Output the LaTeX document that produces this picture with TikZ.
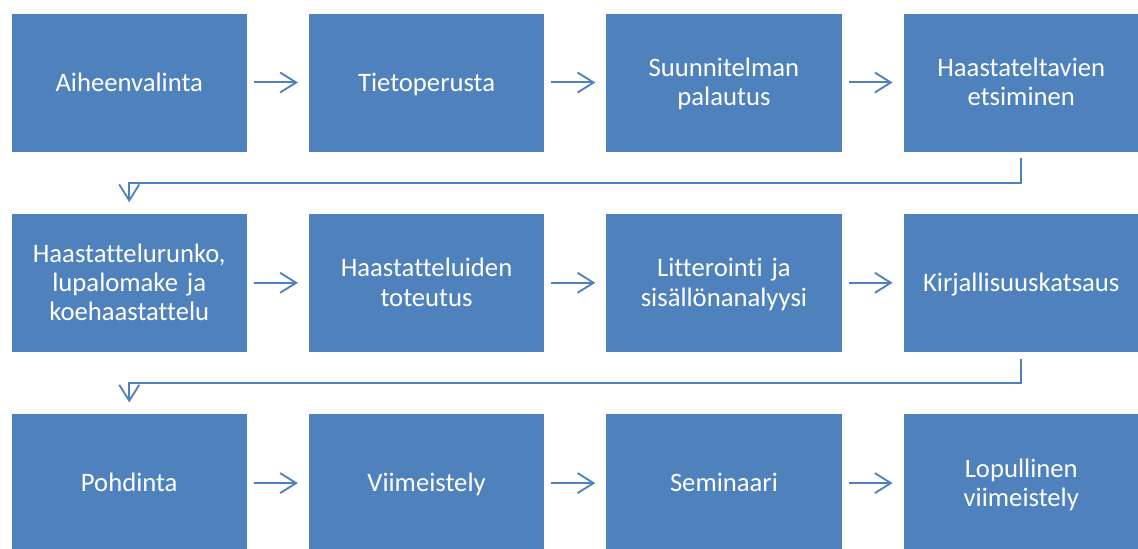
\documentclass[tikz,border=0pt]{standalone}
\usepackage{fontspec}
\setmainfont{Carlito}[Ligatures=NoCommon]
\usetikzlibrary{arrows.meta}
\definecolor{boxblue}{HTML}{4F81BD}
\definecolor{linkblue}{HTML}{4F81BD}
\tikzset{
  stage/.style={draw=white, line width=0.6pt, fill=boxblue, text=white,
    minimum width=236.5*0.75pt, minimum height=139*0.75pt, inner sep=0pt,
    align=center, font=\fontsize{20pt}{21.8pt}\selectfont, text width=220*0.75pt,
    execute at begin node=\rule{0pt}{18pt},
    execute at end node=\rule[-5pt]{0pt}{5pt}},
  flow/.style={draw=linkblue, line width=1.5pt,
    -{Straight Barb[length=12pt, width=15pt, line width=1.4pt]}},
  shortflow/.style={flow, shorten <=4.5pt, shorten >=7.5pt}
}
\begin{document}
\begin{tikzpicture}[x=0.75pt, y=-0.75pt]
  \useasboundingbox (0,0) rectangle (1138,549);
  % three rows of four stages
  \node[stage] (a1) at (129.25,82.5) {Aiheenvalinta};
  \node[stage] (a2) at (426.55,82.5) {Tietoperusta};
  \node[stage] (a3) at (723.95,82.5) {Suunnitelman\\palautus};
  \node[stage] (a4) at (1021.25,82.5) {Haastateltavien\\etsiminen};
  \node[stage] (b1) at (129.25,282.8) {Haastattelurunko,\\lupalomake ja\\koehaastattelu};
  \node[stage] (b2) at (426.55,282.8) {Haastatteluiden\\toteutus};
  \node[stage] (b3) at (723.95,282.8) {Litterointi ja\\sisällönanalyysi};
  \node[stage] (b4) at (1021.25,282.8) {Kirjallisuuskatsaus};
  \node[stage] (c1) at (129.25,483.1) {Pohdinta};
  \node[stage] (c2) at (426.55,483.1) {Viimeistely};
  \node[stage] (c3) at (723.95,483.1) {Seminaari};
  \node[stage] (c4) at (1021.25,483.1) {Lopullinen\\viimeistely};
  % arrows within each row
  \foreach \r in {a,b,c}{
    \draw[shortflow] (\r1.east) -- (\r2.west);
    \draw[shortflow] (\r2.east) -- (\r3.west);
    \draw[shortflow] (\r3.east) -- (\r4.west);
  }
  % elbow connectors between rows
  \coordinate (k1) at (1021.25,183);
  \coordinate (k2) at (1021.25,383);
  \draw[flow, shorten <=4.5pt, shorten >=8pt]
    (a4.south) -- (k1) -- (k1 -| b1.north) -- (b1.north);
  \draw[flow, shorten <=4.5pt, shorten >=8pt]
    (b4.south) -- (k2) -- (k2 -| c1.north) -- (c1.north);
\end{tikzpicture}
\end{document}
